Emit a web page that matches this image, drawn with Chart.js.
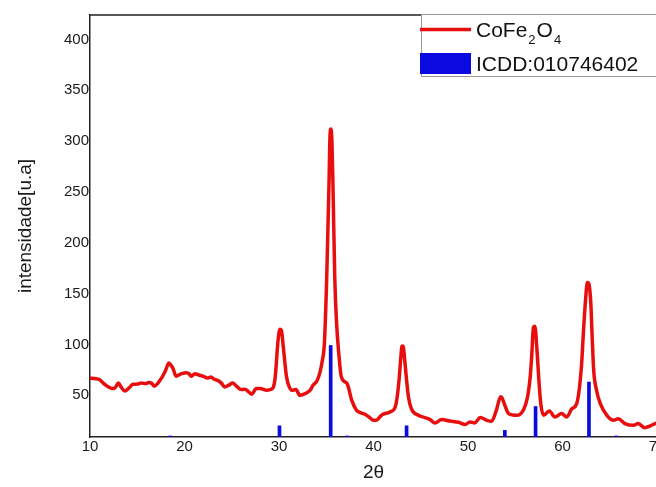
<!DOCTYPE html>
<html>
<head>
<meta charset="utf-8">
<script src="https://cdn.jsdelivr.net/npm/chart.js@4/dist/chart.umd.min.js"></script>
<style>
  html, body { margin: 0; padding: 0; background: #fff; overflow: hidden; }
  canvas { display: block; }
</style>
</head>
<body>
<canvas id="xrd" width="672" height="487"></canvas>
<script>
// 2theta / intensity
const twoTheta = [
  10.0, 10.5, 11.0, 11.4, 11.7, 12.0, 12.4, 12.7, 13.0, 13.3, 13.7, 14.1, 14.55, 15.0, 15.4, 15.9,
  16.2, 16.5, 16.8, 17.1, 17.4, 17.7, 18.0, 18.35, 18.6, 18.8, 19.1, 19.4, 19.7, 20.2, 20.5, 20.7,
  21.1, 21.5, 22.0, 22.4, 22.8, 23.1, 23.5, 23.9, 24.25, 24.7, 25.1, 25.5, 26.0, 26.4, 26.7, 27.1,
  27.6, 28.0, 28.7, 29.05, 29.4, 29.6, 29.9, 30.1, 30.25, 30.45, 30.8, 31.1, 31.35, 31.8, 32.2, 32.9,
  33.3, 33.6, 34.0, 34.3, 34.6, 34.8, 35.05, 35.3, 35.4, 35.5, 35.6, 35.7, 35.9, 36.1, 36.3, 36.6,
  37.2, 37.7, 38.2, 38.6, 39.1, 39.6, 40.0, 40.3, 40.7, 41.0, 41.75, 42.3, 42.5, 42.7, 42.9, 43.02,
  43.15, 43.3, 43.5, 43.7, 44.0, 44.75, 45.45, 46.0, 46.5, 47.2, 48.1, 49.0, 49.7, 50.2, 50.7, 51.3,
  52.0, 52.5, 53.0, 53.45, 53.6, 53.9, 54.3, 55.15, 55.85, 56.3, 56.6, 56.75, 56.92, 57.08, 57.3, 57.5,
  57.7, 58.0, 58.6, 59.2, 59.9, 60.45, 61.0, 61.5, 62.0, 62.2, 62.45, 62.63, 62.78, 63.0, 63.15, 63.3,
  63.6, 64.0, 64.7, 65.4, 65.9, 66.6, 67.5, 68.0, 68.7, 69.3, 69.8, 70.0
];
const intensity = [
  67, 66.5, 65.5, 62, 59.8, 58, 56.6, 58, 62, 58, 54.2, 57, 60.8, 61, 62, 61.5,
  62.5, 62, 59, 61, 64.7, 69, 74.6, 81.8, 79, 76.2, 68.7, 70, 71.3, 72.3, 71, 68.7,
  71.3, 70, 68.7, 67, 68, 66, 64.7, 62, 58.2, 60, 62, 59, 55.6, 56, 54.2, 51,
  56.6, 56.6, 55, 55.6, 58, 68, 104, 115, 114, 98, 68, 58, 55, 55.6, 50, 52.3,
  55, 59.8, 64, 71.3, 85, 100.8, 166, 262, 306, 312, 300, 262, 166, 120, 94, 68,
  61.5, 45, 35.3, 33, 31.3, 28, 25.4, 25.4, 29, 31.3, 33.6, 38.5, 48, 64.7, 88, 98.5,
  98, 85, 65, 48.3, 36.9, 30.3, 28.1, 26.1, 22.8, 26.1, 24.7, 23.5, 21.2, 23.8, 22.8, 28.1,
  25.4, 24.5, 35.3, 48.5, 47.5, 40.2, 32, 30.3, 35.3, 48.3, 70, 90, 117, 118, 94.2, 65,
  41.8, 30.3, 34.6, 28.7, 32, 28.7, 36.9, 41.8, 77.8, 110, 145, 161, 160, 140, 105, 74.6,
  55, 41.8, 30.3, 25.4, 27, 22.2, 20.5, 22.2, 18.2, 20, 22.2, 23
];

// reference card ICDD 01-074-6402 (stick positions and heights)
const icddTheta = [18.5, 30.05, 35.47, 37.2, 43.5, 53.9, 57.15, 62.8, 65.7];
const icddHeight = [10, 20, 99, 10, 20, 15.5, 39, 63, 10];

const xTicks = [10, 20, 30, 40, 50, 60, 70];
const yTicks = [50, 100, 150, 200, 250, 300, 350, 400];

const RED = 'rgb(232, 14, 14)';
const BLUE = 'rgb(10, 10, 225)';
const FONT = '"Liberation Sans", Arial, sans-serif';

// draws the boxed legend (with subscripts) and the top frame line
const boxLegend = {
  id: 'boxLegend',
  afterDraw(chart) {
    const ctx = chart.ctx;
    const a = chart.chartArea;
    ctx.save();
    ctx.strokeStyle = '#222';
    ctx.lineWidth = 1.5;
    ctx.beginPath();
    ctx.moveTo(a.left, a.top);
    ctx.lineTo(a.right, a.top);
    ctx.lineTo(a.right, a.bottom);
    ctx.stroke();

    const bx = 421, by = 14, bw = 260, bh = 62;
    ctx.fillStyle = '#fff';
    ctx.fillRect(bx, by, bw, bh);
    ctx.strokeStyle = '#999';
    ctx.lineWidth = 1;
    ctx.strokeRect(bx + 0.5, by + 0.5, bw, bh);

    const sets = chart.data.datasets;
    const line = sets.find(d => d.type === 'line');
    const bars = sets.find(d => d.type === 'bar');

    ctx.strokeStyle = line.borderColor;
    ctx.lineWidth = 3.5;
    ctx.beginPath();
    ctx.moveTo(420, 29.5);
    ctx.lineTo(471, 29.5);
    ctx.stroke();
    drawRich(ctx, line.label, 476, 37, 21);

    ctx.fillStyle = bars.backgroundColor;
    ctx.fillRect(420, 53, 51, 21);
    drawRich(ctx, bars.label, 476, 71, 21);
    ctx.restore();
  }
};

function drawRich(ctx, text, x, y, size) {
  const subs = '₀₁₂₃₄₅₆₇₈₉';
  ctx.fillStyle = '#111';
  ctx.textBaseline = 'alphabetic';
  ctx.textAlign = 'left';
  for (const ch of text) {
    const k = subs.indexOf(ch);
    if (k >= 0) {
      ctx.font = Math.round(size * 0.62) + 'px ' + FONT;
      ctx.fillText(String(k), x + 1, y + 7);
      x += ctx.measureText(String(k)).width + 2;
    } else {
      ctx.font = size + 'px ' + FONT;
      ctx.fillText(ch, x, y);
      x += ctx.measureText(ch).width;
    }
  }
}

new Chart(document.getElementById('xrd'), {
  type: 'line',
  data: {
    datasets: [
      {
        type: 'bar',
        label: 'ICDD:010746402',
        data: icddTheta.map((t, i) => ({ x: t, y: icddHeight[i] })),
        backgroundColor: BLUE,
        barThickness: 3,
        order: 0
      },
      {
        type: 'line',
        label: 'CoFe₂O₄',
        data: twoTheta.map((t, i) => ({ x: t, y: intensity[i] })),
        borderColor: RED,
        borderWidth: 3.5,
        pointRadius: 0,
        cubicInterpolationMode: 'monotone',
        fill: false,
        order: 1
      }
    ]
  },
  options: {
    responsive: false,
    animation: false,
    layout: { padding: { left: 0, top: 15, right: 15, bottom: 0 } },
    plugins: { legend: { display: false }, tooltip: { enabled: false } },
    scales: {
      x: {
        type: 'linear',
        min: 10,
        max: 70,
        offset: false,
        afterBuildTicks: s => { s.ticks = xTicks.map(v => ({ value: v })); },
        afterFit: s => { s.height = 50; },
        grid: { display: false, drawTicks: false, offset: false },
        border: { color: '#222', width: 1.5 },
        ticks: { color: '#1a1a1a', font: { family: FONT, size: 15 }, padding: 1, maxRotation: 0 },
        title: { display: true, text: '2θ', color: '#1a1a1a', font: { family: FONT, size: 19 }, padding: { top: 0, bottom: 3 } }
      },
      y: {
        min: 9,
        max: 424,
        afterBuildTicks: s => { s.ticks = yTicks.map(v => ({ value: v })); },
        afterFit: s => { s.width = 90; },
        grid: { display: false, drawTicks: false },
        border: { color: '#222', width: 1.5 },
        ticks: { color: '#1a1a1a', font: { family: FONT, size: 15 }, padding: 1 },
        title: { display: true, text: 'intensidade[u.a]', color: '#1a1a1a', font: { family: FONT, size: 19 }, padding: { top: 14, bottom: 0 } }
      }
    }
  },
  plugins: [boxLegend]
});
</script>
</body>
</html>
